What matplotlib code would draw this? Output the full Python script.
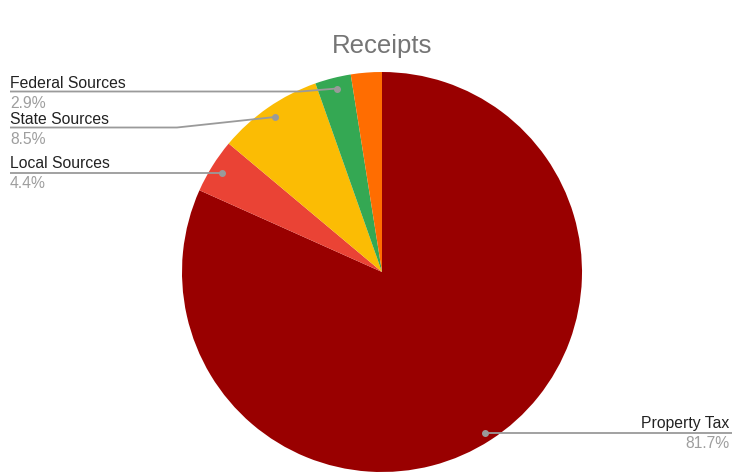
import matplotlib
matplotlib.use("Agg")
import matplotlib.pyplot as plt

plt.rcParams['font.family'] = ['Liberation Sans', 'DejaVu Sans']

# Data
categories = ["Property Tax", "Local Sources", "State Sources", "Federal Sources", "Other Sources"]
values = [81.7, 4.4, 8.5, 2.9, 2.5]
colors = ["#990000", "#EA4335", "#FBBC04", "#34A853", "#FF6D01"]
title = "Receipts"

fig = plt.figure(figsize=(7.32, 4.72), dpi=100)
ax = fig.add_axes([0, 0, 1, 1])

cx, cy, r = 382, 272, 200
ax.pie(values, colors=colors, startangle=-90, counterclock=True,
       center=(cx, cy), radius=r, wedgeprops=dict(linewidth=0))
ax.set_xlim(0, 732)
ax.set_ylim(472, 0)
ax.set_aspect('equal')
ax.axis('off')

ax.text(cx, 46, title, ha='center', va='center', fontsize=18.5, color='#757575')

line_c = '#9a9a9a'
lab_c = '#222222'
pct_c = '#9e9e9e'
fs = 11.3

def label(name, pct, tx, ty, path, dot, ha='left'):
    xs = [p[0] for p in path]
    ys = [p[1] for p in path]
    ax.plot(xs, ys, color=line_c, lw=1.3, solid_capstyle='butt', zorder=5)
    ax.plot([dot[0]], [dot[1]], 'o', ms=4, color=line_c, zorder=6)
    ax.text(tx, ty, name, ha=ha, va='baseline', fontsize=fs, color=lab_c)
    ax.text(tx, ty + 20, f"{pct}%", ha=ha, va='baseline', fontsize=fs, color=pct_c)

label(categories[3], values[3], 10, 87.5, [(10, 91.5), (300, 91.5), (337, 88.5)], (337, 88.5))
label(categories[2], values[2], 10, 124.5, [(10, 127.5), (177, 127.5), (275, 117)], (275, 117))
label(categories[1], values[1], 10, 167.5, [(10, 172.5), (222, 172.5)], (222, 172.5))
label(categories[0], values[0], 729, 428, [(485, 432.5), (732, 432.5)], (485, 432.5), ha='right')

fig.savefig("out.png", dpi=100)
